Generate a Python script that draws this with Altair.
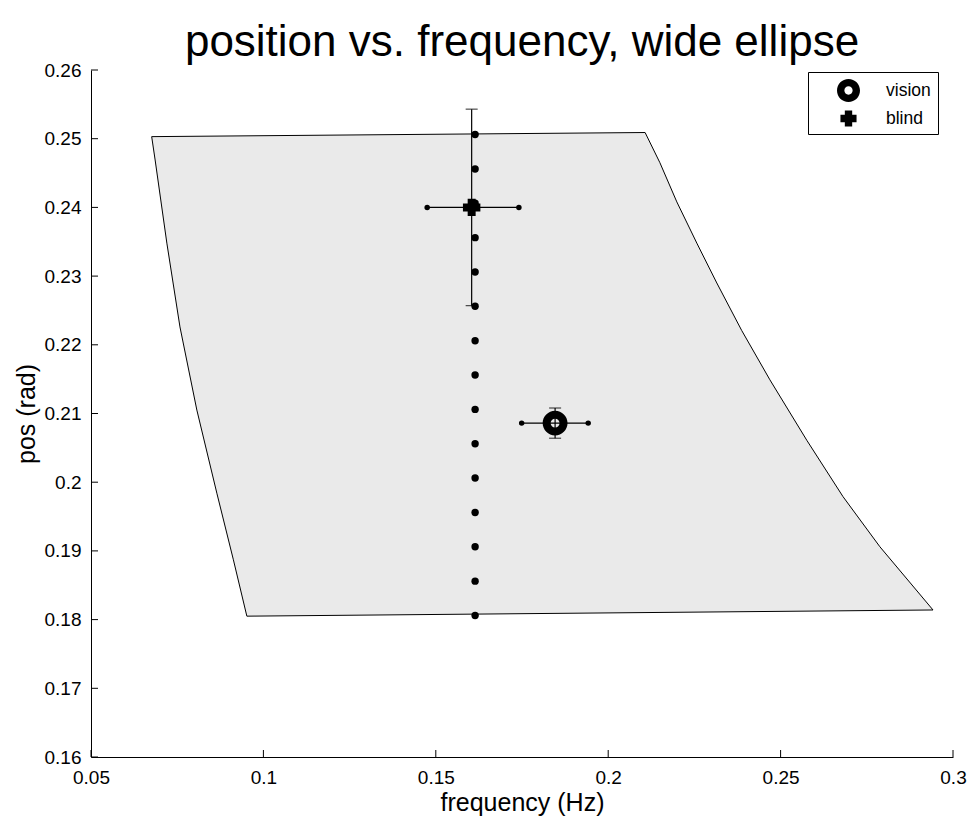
import altair as alt
import pandas as pd

FONT = "Liberation Sans"

# filled region outline (frequency, position), traced clockwise
poly_freq = [0.0676, 0.2107, 0.2150, 0.2199, 0.2257, 0.2315, 0.2387, 0.2469,
             0.2576, 0.2681, 0.2788, 0.2942, 0.0952, 0.0913, 0.0865, 0.0807,
             0.0758, 0.0720, 0.0686, 0.0676]
poly_pos = [0.2503, 0.2509, 0.2465, 0.2408, 0.2348, 0.2290, 0.2221, 0.2149,
            0.2061, 0.1979, 0.1906, 0.1814, 0.1805, 0.1887, 0.1984, 0.2105,
            0.2226, 0.2348, 0.2469, 0.2503]

# column of tested positions
col_freq = [0.1614] * 15
col_pos = [0.1806, 0.1856, 0.1906, 0.1956, 0.2006, 0.2056, 0.2106, 0.2156,
           0.2206, 0.2256, 0.2306, 0.2356, 0.2406, 0.2456, 0.2506]

# condition means with error bars
groups = ["vision", "blind"]
mean_freq = [0.1846, 0.1604]
mean_pos = [0.2086, 0.2400]
freq_lo = [0.1749, 0.1475]
freq_hi = [0.1942, 0.1741]
pos_lo = [0.2064, 0.2257]
pos_hi = [0.2108, 0.2543]

x_ticks = [0.05, 0.1, 0.15, 0.2, 0.25, 0.3]
y_ticks = [0.16, 0.17, 0.18, 0.19, 0.2, 0.21, 0.22, 0.23, 0.24, 0.25, 0.26]

# marker glyphs: thick ring and plus (unit square symbol space)
RING = ("M0,-1A1,1 0 1,1 0,1A1,1 0 1,1 0,-1Z"
        "M0,-0.36A0.36,0.36 0 1,0 0,0.36A0.36,0.36 0 1,0 0,-0.36Z")
PLUS = "M-0.7,-0.32H-0.32V-0.7H0.32V-0.32H0.7V0.32H0.32V0.7H-0.32V0.32H-0.7Z"

W, H = 862, 687
XT = "frequency (Hz)"
YT = "pos (rad)"

xs = alt.Scale(domain=[0.05, 0.3], nice=False, zero=False)
ys = alt.Scale(domain=[0.16, 0.26], nice=False, zero=False)

x_axis = alt.Axis(values=x_ticks, format="~g", ticks=False, grid=False,
                  domainColor="black", domainWidth=1, labelColor="black",
                  labelFont=FONT, labelFontSize=19, labelPadding=11,
                  labelFlush=False, labelOverlap=False,
                  titleFont=FONT, titleFontSize=25, titleFontWeight="normal",
                  titleColor="black", titlePadding=3)
y_axis = alt.Axis(values=y_ticks, format="~g", ticks=False, grid=False,
                  domainColor="black", domainWidth=1, labelColor="black",
                  labelFont=FONT, labelFontSize=19, labelPadding=10,
                  labelFlush=False, labelOverlap=False,
                  titleFont=FONT, titleFontSize=25, titleFontWeight="normal",
                  titleColor="black", titlePadding=5)


def X(field):
    return alt.X(field, scale=xs, axis=x_axis, title=XT)


def Y(field):
    return alt.Y(field, scale=ys, axis=y_axis, title=YT)


poly_df = pd.DataFrame({"f": poly_freq, "p": poly_pos, "i": list(range(len(poly_freq)))})
poly = alt.Chart(poly_df).mark_line(fill="#eaeaea", stroke="black", strokeWidth=1).encode(
    x=X("f:Q"), y=Y("p:Q"), order=alt.Order("i:Q"),
)

col_df = pd.DataFrame({"f": col_freq, "p": col_pos})
col = alt.Chart(col_df).mark_circle(color="black", size=55, opacity=1).encode(
    x=X("f:Q"), y=Y("p:Q"),
)

m_df = pd.DataFrame({"g": groups, "f": mean_freq, "p": mean_pos,
                     "flo": freq_lo, "fhi": freq_hi, "plo": pos_lo, "phi": pos_hi})

leg = alt.Legend(title=None, orient="none", legendX=717, legendY=2,
                 strokeColor="black", fillColor="white", padding=7,
                 labelFont=FONT, labelFontSize=17.5, labelColor="black",
                 symbolOffset=22, labelOffset=26, rowPadding=5, symbolSize=529,
                 symbolFillColor="black", symbolStrokeWidth=0,
                 symbolOpacity=1, cornerRadius=0)

markers = alt.Chart(m_df).mark_point(filled=True, color="black", size=620, opacity=1).encode(
    x=X("f:Q"), y=Y("p:Q"),
    shape=alt.Shape("g:N", scale=alt.Scale(domain=groups, range=[RING, PLUS]), legend=leg),
)

hbar = alt.Chart(m_df).mark_rule(color="black", strokeWidth=1.2).encode(
    x=X("flo:Q"), x2="fhi:Q", y=Y("p:Q"),
)
vbar = alt.Chart(m_df).mark_rule(color="black", strokeWidth=1.2).encode(
    x=X("f:Q"), y=Y("plo:Q"), y2="phi:Q",
)
cap_lo = alt.Chart(m_df).mark_tick(color="black", orient="horizontal", size=12, thickness=1.2).encode(
    x=X("f:Q"), y=Y("plo:Q"),
)
cap_hi = alt.Chart(m_df).mark_tick(color="black", orient="horizontal", size=12, thickness=1.2).encode(
    x=X("f:Q"), y=Y("phi:Q"),
)
end_lo = alt.Chart(m_df).mark_circle(color="black", size=30, opacity=1).encode(
    x=X("flo:Q"), y=Y("p:Q"),
)
end_hi = alt.Chart(m_df).mark_circle(color="black", size=30, opacity=1).encode(
    x=X("fhi:Q"), y=Y("p:Q"),
)

# inward tick marks
xt = alt.Chart(pd.DataFrame({"t": x_ticks})).mark_rule(color="black", strokeWidth=1).encode(
    x=X("t:Q"), y=alt.value(H), y2=alt.value(H - 7),
)
yt = alt.Chart(pd.DataFrame({"t": y_ticks})).mark_rule(color="black", strokeWidth=1).encode(
    y=Y("t:Q"), x=alt.value(0), x2=alt.value(7),
)

chart = alt.layer(poly, col, markers, hbar, vbar, cap_lo, cap_hi, end_lo, end_hi, xt, yt).properties(
    width=W,
    height=H,
    title=alt.TitleParams("position vs. frequency, wide ellipse", font=FONT, fontSize=44,
                          fontWeight="normal", color="black", anchor="middle",
                          frame="group", baseline="alphabetic", offset=-39),
    autosize=alt.AutoSizeParams(type="none"),
    padding={"left": 91, "top": 70, "right": 18, "bottom": 59},
    background="white",
).configure_view(stroke=None)

chart.save("out.html", embed_options={"renderer": "svg", "actions": False})
